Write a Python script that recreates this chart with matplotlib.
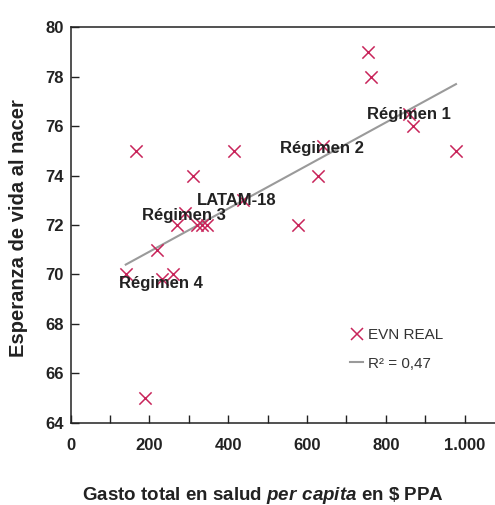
import numpy as np
import matplotlib
matplotlib.use("Agg")
import matplotlib.pyplot as plt
from matplotlib.ticker import MultipleLocator, FuncFormatter
from matplotlib.lines import Line2D

plt.rcParams['font.family'] = ['Liberation Sans', 'DejaVu Sans']
plt.rcParams['mathtext.fontset'] = 'custom'
plt.rcParams['mathtext.bfit'] = 'Liberation Sans:italic:bold'
plt.rcParams['mathtext.rm'] = 'Liberation Sans:bold'

# Health expenditure per capita (PPP $) and life expectancy at birth
gasto = [165, 140, 190, 220, 232, 261, 271, 290, 320, 333, 345, 438,
         576, 310, 415, 627, 641, 754, 762, 859, 870, 978]
esperanza = [75, 70, 65, 71, 69.8, 70, 72, 72.5, 72, 72, 72, 73,
             72, 74, 75, 74, 75.2, 79, 78, 76.5, 76, 75]

# Group labels and their anchor points (x, y)
grupos = ["Régimen 1", "Régimen 2", "LATAM-18", "Régimen 3", "Régimen 4"]
grupos_x = [752, 532, 320, 181, 124]
grupos_y = [76.45, 75.1, 72.98, 72.38, 69.64]

r2_texto = "R² = 0,47"
serie_texto = "EVN REAL"

W, H = 495, 505
fig = plt.figure(figsize=(W / 100, H / 100), dpi=100)
ax = fig.add_axes([0.1426, 0.1624, 0.8574, 0.7841])

color_x = "#C8245A"
ax.scatter(gasto, esperanza, marker="x", s=78, color=color_x,
           linewidths=1.1, zorder=3)

# Linear trend over the observed range
coef = np.polyfit(gasto, esperanza, 1)
xs = np.array([min(gasto), max(gasto)])
ax.plot(xs, np.polyval(coef, xs), color="#9a9a9a", lw=1.5, zorder=2)

for t, gx, gy in zip(grupos, grupos_x, grupos_y):
    ax.text(gx, gy, t, fontsize=12, fontweight="bold", color="#222222",
            ha="left", va="center", zorder=4)

ax.set_xlim(0, 1077)
ax.set_ylim(64, 80)
ax.xaxis.set_major_locator(MultipleLocator(100))
ax.yaxis.set_major_locator(MultipleLocator(2))


def fmt_x(v, pos):
    v = int(round(v))
    if v % 200:
        return ""
    return f"{v:,}".replace(",", ".")


ax.xaxis.set_major_formatter(FuncFormatter(fmt_x))
ax.tick_params(axis="both", direction="in", length=5.5, width=1.0,
               color="#222222", labelsize=12, labelcolor="#222222")
ax.tick_params(axis="x", pad=11)
ax.tick_params(axis="y", pad=5)
for lab in ax.get_xticklabels() + ax.get_yticklabels():
    lab.set_fontweight("bold")

for side in ["left", "bottom", "top"]:
    ax.spines[side].set_linewidth(1.1)
    ax.spines[side].set_color("#222222")
ax.spines["right"].set_visible(False)

fig.text(18.5 / W, 1 - 228 / H, "Esperanza de vida al nacer", rotation=90,
         fontsize=14.5, fontweight="bold", color="#222222",
         ha="center", va="center")
fig.text(263 / W, 1 - 500.5 / H,
         r"Gasto total en salud $\mathbfit{per\ capita}$ en \$ PPA",
         fontsize=13.5, fontweight="bold", color="#222222",
         ha="center", va="baseline")

handles = [
    Line2D([], [], marker="x", linestyle="none", color=color_x,
           markersize=9, markeredgewidth=1.1),
    Line2D([], [], color="#9a9a9a", lw=1.5),
]
leg = ax.legend(handles, [serie_texto, r2_texto], loc="upper left",
                bbox_to_anchor=(0.645, 0.255), frameon=False,
                fontsize=11, handlelength=0.8, handletextpad=0.35,
                labelspacing=0.95, borderaxespad=0)
for t in leg.get_texts():
    t.set_color("#333333")

fig.savefig("out.png", dpi=100)
